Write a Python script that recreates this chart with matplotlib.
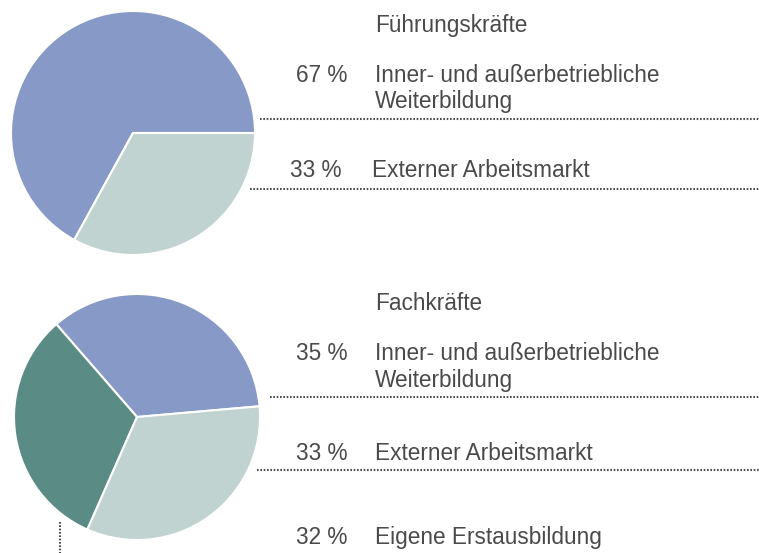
import matplotlib.pyplot as plt

# data
fuehrung_cats = ["Inner- und außerbetriebliche\nWeiterbildung", "Externer Arbeitsmarkt"]
fuehrung_vals = [67, 33]
fach_cats = ["Inner- und außerbetriebliche\nWeiterbildung", "Externer Arbeitsmarkt", "Eigene Erstausbildung"]
fach_vals = [35, 33, 32]
titles = ["Führungskräfte", "Fachkräfte"]

colors = {
    "Inner- und außerbetriebliche\nWeiterbildung": "#8799c7",
    "Externer Arbeitsmarkt": "#c0d3d0",
    "Eigene Erstausbildung": "#5a8c85",
}

W, H = 759, 553
fig = plt.figure(figsize=(W / 100, H / 100), dpi=100)
ax = fig.add_axes([0, 0, 1, 1])

def Y(y):
    # pixel row (from top) -> data y
    return H - y

txt = dict(fontsize=16.3, color="#4a4a4a", family="Liberation Sans")
dot = dict(color="#4d4d4d", linewidth=1.5, linestyle=(0, (0.8, 0.8)))

# top pie: counter-clockwise from 3 o'clock
ax.pie(fuehrung_vals, colors=[colors[c] for c in fuehrung_cats], startangle=0,
       center=(133, Y(133)), radius=122,
       wedgeprops=dict(edgecolor="white", linewidth=1.5))

# bottom pie order: blue, dark, light
order = [0, 2, 1]
ax.pie([fach_vals[i] for i in order], colors=[colors[fach_cats[i]] for i in order],
       startangle=5, center=(137, Y(417)), radius=123,
       wedgeprops=dict(edgecolor="white", linewidth=1.5))

ax.set_xlim(0, W)
ax.set_ylim(0, H)
ax.set_aspect("equal")
ax.axis("off")

# top block
ax.text(375, Y(32), titles[0], ha="left", va="baseline", **txt)
top_base = [82, 177]
top_lx = [375, 372]
top_rx = [347, 342]
for cat, v, b, lx, rx in zip(fuehrung_cats, fuehrung_vals, top_base, top_lx, top_rx):
    ax.text(rx, Y(b), f"{v} %", ha="right", va="baseline", **txt)
    for k, line in enumerate(cat.split("\n")):
        ax.text(lx, Y(b + 26 * k), line, ha="left", va="baseline", **txt)
ax.plot([260, W], [Y(119), Y(119)], **dot)
ax.plot([250, W], [Y(189), Y(189)], **dot)

# bottom block
ax.text(375, Y(310), titles[1], ha="left", va="baseline", **txt)
bot_base = [360, 460, 544]
for cat, v, b in zip(fach_cats, fach_vals, bot_base):
    ax.text(347, Y(b), f"{v} %", ha="right", va="baseline", **txt)
    for k, line in enumerate(cat.split("\n")):
        ax.text(375, Y(b + 27 * k), line, ha="left", va="baseline", **txt)
ax.plot([270, W], [Y(397), Y(397)], **dot)
ax.plot([257, W], [Y(470), Y(470)], **dot)
ax.plot([60, 60], [Y(522), Y(553)], **dot)

fig.savefig("out.png", dpi=100, facecolor="white")
